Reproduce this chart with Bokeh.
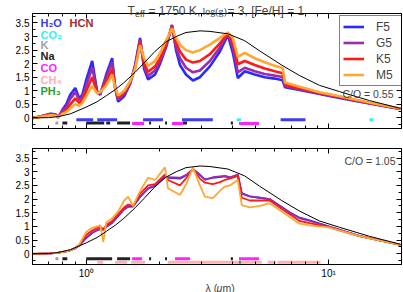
import math
from bokeh.plotting import figure
from bokeh.layouts import column
from bokeh.models import (LogAxis, LinearAxis, Label, Legend, LegendItem, Range1d,
                          SingleIntervalTicker, FixedTicker, GlobalInlineStyleSheet)
from bokeh.embed import file_html
from bokeh.resources import INLINE

FONT = "Liberation Sans"
SERIF = "Liberation Serif"

# ---------------- data ----------------
bb_wl = [0.60, 0.70, 0.767, 0.86, 1.0, 1.11, 1.21, 1.32, 1.43, 1.59, 1.73, 1.92, 2.13,
         2.35, 2.58, 2.95, 3.24, 3.84, 4.5, 5.2, 6.4, 7.6, 9.18, 11.1, 14.75, 19.8]
bb_flux = [0.0, 0.01, 0.05, 0.15, 0.4, 0.6, 0.82, 1.05, 1.3, 1.68, 2.02, 2.45, 2.8,
           3.0, 3.15, 3.21, 3.19, 3.1, 2.85, 2.47, 1.95, 1.56, 1.2, 0.97, 0.64, 0.35]

top_wl = [0.60, 0.647, 0.711, 0.746, 0.767, 0.797, 0.827, 0.859, 0.901, 0.936, 0.963, 1.0,
          1.058, 1.11, 1.142, 1.209, 1.279, 1.316, 1.354, 1.434, 1.517, 1.591, 1.668, 1.733,
          1.80, 1.923, 2.017, 2.134, 2.259, 2.346, 2.437, 2.579, 2.756, 2.945, 3.238, 3.56,
          3.841, 4.027, 4.222, 4.51, 4.96, 5.453, 5.995, 6.406, 6.47, 6.61, 7.6, 9.18, 11.1,
          14.75, 19.8]
top_F5 = [0.0, 0.05, 0.15, 0.13, 0.02, 0.3, 0.5, 0.85, 1.1, 0.72, 0.85, 1.4,
          2.1, 0.95, 0.85, 1.6, 2.2, 1.1, 0.6, 0.8, 1.25, 1.95, 2.95, 1.8,
          1.42, 1.6, 2.0, 2.6, 3.43, 2.5, 1.95, 1.6, 1.38, 1.5, 1.9, 2.45,
          3.05, 2.4, 1.47, 1.72, 1.6, 1.5, 1.45, 1.4, 1.38, 1.13, 1.03, 0.88, 0.74,
          0.53, 0.33]
top_G5 = [0.0, 0.05, 0.14, 0.12, 0.02, 0.26, 0.42, 0.7, 0.95, 0.66, 0.78, 1.2,
          1.85, 0.95, 0.9, 1.5, 2.05, 1.12, 0.68, 0.88, 1.28, 1.9, 2.88, 1.9,
          1.55, 1.75, 2.1, 2.65, 3.4, 2.6, 2.2, 1.85, 1.68, 1.75, 2.1, 2.6,
          3.1, 2.6, 1.68, 1.85, 1.72, 1.62, 1.56, 1.52, 1.5, 1.18, 1.06, 0.9, 0.76,
          0.54, 0.33]
top_K5 = [0.0, 0.05, 0.12, 0.11, 0.02, 0.2, 0.3, 0.5, 0.72, 0.55, 0.65, 1.0,
          1.5, 0.92, 0.92, 1.35, 1.8, 1.12, 0.75, 0.95, 1.32, 1.85, 2.8, 2.0,
          1.7, 1.9, 2.2, 2.72, 3.37, 2.78, 2.45, 2.15, 2.04, 2.1, 2.35, 2.75,
          3.12, 2.8, 1.98, 2.1, 1.95, 1.82, 1.72, 1.66, 1.64, 1.22, 1.09, 0.92, 0.78,
          0.55, 0.34]
top_M5 = [0.0, 0.04, 0.1, 0.09, 0.02, 0.15, 0.22, 0.35, 0.5, 0.45, 0.55, 0.8,
          1.18, 0.9, 0.95, 1.2, 1.6, 1.1, 0.83, 1.0, 1.35, 1.8, 2.68, 2.2,
          1.92, 2.1, 2.4, 2.85, 3.3, 2.95, 2.7, 2.5, 2.41, 2.5, 2.7, 2.95,
          3.15, 2.95, 2.25, 2.4, 2.2, 2.05, 1.92, 1.85, 1.83, 1.31, 1.15, 0.95, 0.8,
          0.57, 0.35]

bot_wl = [0.60, 0.711, 0.767, 0.827, 0.859, 0.901, 0.936, 1.0, 1.058, 1.11, 1.142, 1.175,
          1.209, 1.279, 1.354, 1.434, 1.489, 1.561, 1.668, 1.80, 1.923, 2.113, 2.174, 2.437,
          2.602, 2.756, 2.945, 3.089, 3.329, 3.56, 3.734, 3.914, 4.222, 4.384, 4.728, 5.2,
          5.71, 6.91, 7.6, 8.36, 10.0, 13.4, 19.8]
bot_F5 = [0.0, 0.02, 0.04, 0.09, 0.13, 0.2, 0.3, 0.58, 0.76, 0.86, 0.9, 0.9,
          0.98, 1.13, 1.38, 1.62, 1.72, 1.73, 2.08, 2.38, 2.48, 2.83, 2.78, 2.75,
          2.88, 3.08, 2.88, 2.72, 2.78, 2.8, 2.83, 2.78, 2.88, 2.22, 2.1, 2.05,
          2.0, 1.52, 1.32, 1.22, 1.0, 0.66, 0.33]
bot_G5 = [0.0, 0.02, 0.04, 0.09, 0.13, 0.21, 0.31, 0.6, 0.78, 0.88, 0.92, 0.92,
          1.0, 1.15, 1.4, 1.65, 1.75, 1.75, 2.1, 2.4, 2.5, 2.85, 2.8, 2.78,
          2.9, 3.1, 2.9, 2.7, 2.8, 2.83, 2.85, 2.8, 2.9, 2.2, 2.1, 2.05,
          2.0, 1.5, 1.3, 1.2, 1.0, 0.66, 0.33]
bot_K5 = [0.0, 0.02, 0.04, 0.09, 0.13, 0.22, 0.33, 0.7, 0.85, 0.95, 1.0, 0.86,
          1.05, 1.2, 1.45, 1.7, 1.8, 1.75, 2.2, 2.5, 2.55, 2.9, 2.7, 2.5,
          2.8, 3.1, 2.75, 2.6, 2.55, 2.62, 2.7, 2.75, 2.85, 2.05, 1.95, 1.95,
          1.95, 1.45, 1.2, 1.12, 0.98, 0.65, 0.33]
bot_M5 = [0.0, 0.02, 0.04, 0.09, 0.13, 0.22, 0.35, 0.8, 0.95, 1.0, 1.05, 0.43,
          1.15, 1.3, 1.55, 1.95, 2.09, 1.75, 2.3, 2.78, 2.7, 3.16, 2.4, 2.15,
          2.6, 3.15, 2.5, 2.09, 2.04, 2.3, 2.46, 2.5, 2.7, 1.78, 1.7, 1.75,
          1.85, 1.35, 1.1, 1.04, 0.97, 0.65, 0.33]

series_names = ["F5", "G5", "K5", "M5"]

molecules = ["H2O", "HCN", "CO2", "K", "Na", "CO", "CH4", "PH3"]
molecule_text = ["H\u2082O", "HCN", "CO\u2082", "K", "Na", "CO", "CH\u2084", "PH\u2083"]

top_band_mol = ["K", "Na", "H2O", "Na", "Na", "H2O", "Na", "CO", "H2O", "Na", "Na", "CO", "Na",
                "H2O", "Na", "CO2", "CO", "H2O", "CO2"]
top_band_start = [0.746, 0.797, 0.910, 1.0, 1.209, 1.110, 1.341, 1.546, 1.716, 1.817, 2.115,
                  2.259, 2.506, 2.483, 3.95, 4.18, 4.27, 6.34, 14.75]
top_band_end = [0.767, 0.835, 1.068, 1.186, 1.255, 1.341, 1.517, 1.733, 2.073, 1.852, 2.154,
                2.506, 2.604, 3.329, 4.03, 4.35, 5.16, 8.03, 15.29]

bot_band_mol = ["K", "Na", "Na", "CH4", "Na", "CH4", "CO", "CH4", "Na", "Na", "CO", "CH4",
                "Na", "PH3", "CO", "CH4", "CH4", "CH4"]
bot_band_start = [0.746, 0.797, 1.0, 1.11, 1.341, 1.316, 1.546, 1.532, 1.817, 2.115, 2.325,
                  2.17, 3.95, 4.27, 4.27, 4.35, 5.61, 6.16]
bot_band_end = [0.767, 0.835, 1.279, 1.175, 1.517, 1.475, 1.70, 1.749, 1.852, 2.154, 2.68,
                4.30, 4.03, 4.35, 5.16, 5.30, 6.06, 9.27]

x_major = [1, 10]
x_minor = [0.6, 0.7, 0.8, 0.9, 2, 3, 4, 5, 6, 7, 8, 9, 20]
x_major_text = {1: "10\u2070", 10: "10\u00b9"}

title_parts = ["T", "eff", "= 1750 K,", "log(g)", "= 3, [Fe/H] = 1"]
ylabel_parts = ["F", "\u03bd", "(10\u207b\u2076 erg cm\u207b\u00b2 s\u207b\u00b9 Hz\u207b\u00b9)"]
xlabel_parts = ["\u03bb (", "\u03bc", "m)"]

# ---------------- style ----------------
series_colors = ["#2a2aff", "#9a2ea8", "#ff1a1a", "#ffa733"]
mol_colors = {"H2O": "#3b3bf5", "HCN": "#a52a2a", "CO2": "#38f0f0", "K": "#a0a0a0",
              "Na": "#222222", "CO": "#ff22ff", "CH4": "#ffb0b0", "PH3": "#2ea02e"}
top_rows = {"H2O": -0.07, "CO2": -0.07, "K": -0.19, "Na": -0.19, "CO": -0.21}
bot_rows = {"K": -0.18, "Na": -0.18, "CO": -0.18, "CH4": -0.31, "PH3": -0.31}

W, H = 403, 292
FRAME_L, FRAME_R = 32, 401


def make_fig(height, top, bottom, show_x_labels):
    p = figure(width=W, height=height, x_axis_type="log",
               x_range=Range1d(0.6, 20), y_range=Range1d(-0.39, 3.85),
               output_backend="svg", toolbar_location=None,
               min_border_left=FRAME_L, min_border_right=W - FRAME_R,
               min_border_top=top, min_border_bottom=bottom)
    p.xgrid.visible = False
    p.ygrid.visible = False
    p.outline_line_color = "black"
    p.background_fill_color = "white"
    p.border_fill_color = "white"
    p.add_layout(LogAxis(), "above")
    p.add_layout(LinearAxis(), "right")
    for ax in p.axis:
        ax.axis_line_color = "black"
        ax.major_tick_in = 5
        ax.major_tick_out = 0
        ax.minor_tick_in = 3
        ax.minor_tick_out = 0
        ax.major_tick_line_color = "black"
        ax.minor_tick_line_color = "black"
        ax.major_label_text_font = FONT
        ax.major_label_text_font_size = "10px"
        ax.major_label_text_color = "black"
    for ax in p.yaxis:
        ax.ticker = SingleIntervalTicker(interval=0.5, num_minor_ticks=2)
    for ax in p.xaxis:
        ax.ticker = FixedTicker(ticks=x_major, minor_ticks=x_minor)
        ax.major_label_overrides = x_major_text
    p.yaxis[0].major_label_standoff = 3
    p.below[0].major_label_standoff = 3
    hidden = [p.above[0], p.right[0]]
    if not show_x_labels:
        hidden.append(p.below[0])
    for ax in hidden:
        ax.major_label_text_color = None
        ax.major_label_text_font_size = "1px"
        ax.major_label_standoff = 0
    return p


def bands(p, mols, starts, ends, rows):
    for mol in rows:
        xs0 = [s for m, s in zip(mols, starts) if m == mol]
        xs1 = [e for m, e in zip(mols, ends) if m == mol]
        if xs0:
            p.segment(x0=xs0, x1=xs1, y0=[rows[mol]] * len(xs0), y1=[rows[mol]] * len(xs0),
                      line_color=mol_colors[mol], line_width=3)


def put(p, offset, x, y, text, size, **kw):
    # labels inside a panel's frame; x, y in page pixels (y from top)
    p.add_layout(Label(x=x, y=y - offset, x_units="canvas", y_units="canvas",
                       text=text, text_font_size=f"{size}px", **kw))


# ---------------- top panel ----------------
TOP_H = 140
p1 = make_fig(TOP_H, 13, TOP_H - 128, False)

renderers = []
for ys, col in zip([top_F5, top_G5, top_K5, top_M5], series_colors):
    renderers.append(p1.line(top_wl, ys, line_color=col, line_width=2.6))
p1.line(bb_wl, bb_flux, line_color="black", line_width=1)
bands(p1, top_band_mol, top_band_start, top_band_end, top_rows)

legend = Legend(items=[LegendItem(label=n, renderers=[r]) for n, r in zip(series_names, renderers)],
                location=(307, 42), padding=3, spacing=1, margin=0,
                label_height=15, glyph_height=15, glyph_width=21, label_width=22,
                label_standoff=12, label_text_font=FONT, label_text_font_size="12px",
                border_line_color="black", border_line_width=1, background_fill_alpha=1)
p1.add_layout(legend, "center")

mol_pos = {"H2O": (40, 22.5), "HCN": (69, 22.5), "CO2": (40, 34), "K": (40, 44.5),
           "Na": (40, 55.5), "CO": (40, 67.5), "CH4": (40, 79), "PH3": (40, 90)}
for mol, txt in zip(molecules, molecule_text):
    x, y = mol_pos[mol]
    put(p1, 0, x, y, txt, 11, text_font=FONT, text_font_style="bold",
        text_color=mol_colors[mol], text_baseline="middle")
put(p1, 0, 393, 93, "C/O = 0.55", 10.5, text_font=FONT, text_align="right", text_baseline="middle")

# ---------------- bottom panel ----------------
BOT_H = 152
OFF = 140
p2 = make_fig(BOT_H, 148 - OFF, OFF + BOT_H - 264, True)
for ys, col in zip([bot_F5, bot_G5, bot_K5, bot_M5], series_colors):
    p2.line(bot_wl, ys, line_color=col, line_width=1.8)
p2.line(bb_wl, bb_flux, line_color="black", line_width=1)
bands(p2, bot_band_mol, bot_band_start, bot_band_end, bot_rows)
put(p2, OFF, 395, 160, "C/O = 1.05", 10.5, text_font=FONT, text_align="right", text_baseline="middle")

# ---------------- transparent text overlay (title, axis labels) ----------------
ov = figure(width=W, height=H, x_range=Range1d(0, W), y_range=Range1d(0, H),
            output_backend="svg", toolbar_location=None,
            min_border=0, min_border_left=0, min_border_right=0,
            min_border_top=0, min_border_bottom=0,
            x_axis_location=None, y_axis_location=None,
            background_fill_color=None, border_fill_color=None, outline_line_color=None,
            styles={"position": "absolute", "left": "0px", "top": "0px"})
ov.grid.visible = False


def ot(x, y, text, size, **kw):
    ov.add_layout(Label(x=x, y=y, x_units="canvas", y_units="canvas",
                        text=text, text_font_size=f"{size}px", **kw))


base = dict(text_font=FONT, text_baseline="alphabetic")
ot(127, 10.5, title_parts[0], 12, **base)
ot(134.5, 13, title_parts[1], 9, **base)
ot(148, 10.5, title_parts[2], 12, **base)
ot(202, 10.5, title_parts[3], 10, text_font=SERIF, text_baseline="alphabetic")
ot(227, 10.5, title_parts[4], 12, **base)

rot = dict(text_font=FONT, text_align="left", text_baseline="alphabetic", angle=math.pi / 2)
for y0 in (131, 276):
    ot(12, y0, ylabel_parts[0], 11, **rot)
    ot(14, y0 - 7, ylabel_parts[1], 8, **rot)
    ot(12, y0 - 12, ylabel_parts[2], 11, **rot)

ot(205, 287, xlabel_parts[0], 10.5, **base)
ot(216, 287, xlabel_parts[1], 10.5, text_font=FONT, text_font_style="italic", text_baseline="alphabetic")
ot(222, 287, xlabel_parts[2], 10.5, **base)

layout = column(p1, p2, ov, spacing=0,
                styles={"position": "relative"},
                stylesheets=[GlobalInlineStyleSheet(css="html, body { margin: 0; padding: 0; overflow: hidden; }")])

open("out.html", "w").write(file_html(layout, INLINE))
